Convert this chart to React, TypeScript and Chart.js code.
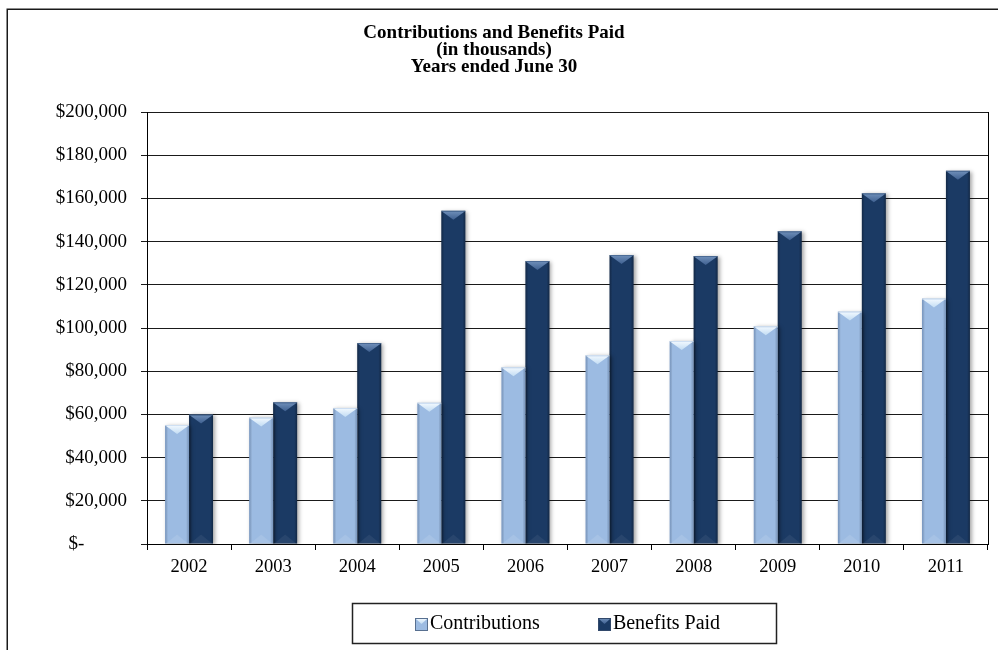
import React, { useEffect, useRef } from 'react';
import { Chart, registerables } from 'chart.js';

Chart.register(...registerables);

const years = ['2002', '2003', '2004', '2005', '2006', '2007', '2008', '2009', '2010', '2011'];
const contributions = [55100, 58600, 63000, 65400, 81800, 87400, 94000, 100800, 107600, 113600];
const benefitsPaid = [60000, 65600, 93000, 154300, 131000, 133800, 133300, 144800, 162400, 172800];
const seriesNames = ['Contributions', 'Benefits Paid'];
const titleLines = ['Contributions and Benefits Paid', '(in thousands)', 'Years ended June 30'];
const yMin = 0;
const yMax = 200000;
const yStep = 20000;

const FONT = "'Liberation Serif', 'Times New Roman', serif";

const palette = [
  { body: '#9cbbe2', edge: 'rgba(40,70,120,0.30)', capTop: '#f4faff', capBot: '#c2dcf3', foot: 'rgba(255,255,255,0.10)' },
  { body: '#1b3a64', edge: 'rgba(0,0,0,0.30)', capTop: '#7191bb', capBot: '#3f6090', foot: 'rgba(255,255,255,0.06)' },
];

const decorPlugin = {
  id: 'decor',
  beforeDraw(chart: any) {
    const { ctx, width, height } = chart;
    ctx.save();
    ctx.fillStyle = '#ffffff';
    ctx.fillRect(0, 0, width, height);
    ctx.strokeStyle = '#1a1a1a';
    ctx.lineWidth = 1.5;
    ctx.strokeRect(7.25, 9.25, width + 50, height + 50);
    ctx.restore();
  },
  beforeDatasetsDraw(chart: any) {
    const ctx = chart.ctx;
    ctx.save();
    ctx.shadowColor = 'rgba(0,0,0,0.35)';
    ctx.shadowBlur = 4;
    ctx.shadowOffsetX = 2;
    ctx.shadowOffsetY = 1;
  },
  afterDatasetsDraw(chart: any) {
    const ctx = chart.ctx;
    ctx.restore();
    chart.data.datasets.forEach((ds: any, di: number) => {
      const meta = chart.getDatasetMeta(di);
      const pal = palette[di];
      meta.data.forEach((bar: any) => {
        const { x, y, width, base } = bar.getProps(['x', 'y', 'width', 'base'], true);
        const l = x - width / 2;
        const r = x + width / 2;
        const h = base - y;
        ctx.save();
        const g = ctx.createLinearGradient(l, 0, r, 0);
        g.addColorStop(0, pal.edge);
        g.addColorStop(0.12, 'rgba(0,0,0,0)');
        g.addColorStop(0.88, 'rgba(0,0,0,0)');
        g.addColorStop(1, pal.edge);
        ctx.fillStyle = g;
        ctx.fillRect(l, y, width, h);
        const capH = Math.min(9, h / 2);
        const cg = ctx.createLinearGradient(0, y, 0, y + capH);
        cg.addColorStop(0, pal.capTop);
        cg.addColorStop(1, pal.capBot);
        ctx.fillStyle = cg;
        ctx.beginPath();
        ctx.moveTo(l + 1, y + 1);
        ctx.lineTo(r - 1, y + 1);
        ctx.lineTo(x, y + capH);
        ctx.closePath();
        ctx.fill();
        ctx.fillStyle = pal.capTop;
        ctx.globalAlpha = 0.6;
        ctx.fillRect(l, y, width, 1);
        ctx.globalAlpha = 1;
        const fH = Math.min(9, h / 2);
        ctx.fillStyle = pal.foot;
        ctx.beginPath();
        ctx.moveTo(l + 1, base);
        ctx.lineTo(r - 1, base);
        ctx.lineTo(x, base - fH);
        ctx.closePath();
        ctx.fill();
        ctx.restore();
      });
    });
  },
  afterDraw(chart: any) {
    const { ctx, chartArea } = chart;
    ctx.save();
    ctx.strokeStyle = '#000';
    ctx.lineWidth = 1;
    ctx.beginPath();
    ctx.moveTo(Math.round(chartArea.right) + 0.5, chartArea.top);
    ctx.lineTo(Math.round(chartArea.right) + 0.5, chartArea.bottom);
    ctx.stroke();

    const cx = (chartArea.left + chartArea.right) / 2 - 3.5;
    const boxW = 424;
    const boxH = 40;
    const boxL = Math.round(cx - boxW / 2);
    const boxT = Math.round(chartArea.bottom + 59);
    ctx.strokeStyle = '#222';
    ctx.lineWidth = 1.5;
    ctx.strokeRect(boxL + 0.5, boxT + 0.5, boxW, boxH);

    ctx.font = `20px ${FONT}`;
    ctx.textBaseline = 'middle';
    ctx.textAlign = 'left';
    const icon = 13;
    const gapIT = 2;
    const gapItems = 58;
    const widths = chart.data.datasets.map((d: any) => ctx.measureText(d.label).width);
    const total = widths.reduce((a: number, w: number) => a + w + icon + gapIT, 0) + gapItems;
    let px = cx + 3.5 - total / 2;
    const cy = boxT + boxH / 2 + 1;
    chart.data.datasets.forEach((d: any, i: number) => {
      const pal = palette[i];
      const ix = Math.round(px);
      const iy = Math.round(cy - icon / 2);
      ctx.fillStyle = pal.body;
      ctx.fillRect(ix, iy, icon, icon);
      const cg = ctx.createLinearGradient(0, iy, 0, iy + 6);
      cg.addColorStop(0, pal.capTop);
      cg.addColorStop(1, pal.capBot);
      ctx.fillStyle = cg;
      ctx.beginPath();
      ctx.moveTo(ix + 1, iy + 1);
      ctx.lineTo(ix + icon - 1, iy + 1);
      ctx.lineTo(ix + icon / 2, iy + 6);
      ctx.closePath();
      ctx.fill();
      ctx.strokeStyle = 'rgba(60,80,110,0.7)';
      ctx.lineWidth = 1;
      ctx.strokeRect(ix + 0.5, iy + 0.5, icon - 1, icon - 1);
      ctx.fillStyle = '#000';
      ctx.fillText(d.label, px + icon + gapIT, cy);
      px += icon + gapIT + widths[i] + gapItems;
    });
    ctx.restore();
  },
};

export default function App() {
  const canvasRef = useRef<HTMLCanvasElement | null>(null);

  useEffect(() => {
    if (!canvasRef.current) return;
    const chart = new Chart(canvasRef.current, {
      type: 'bar',
      data: {
        labels: years,
        datasets: [
          {
            label: seriesNames[0],
            data: contributions,
            backgroundColor: palette[0].body,
            borderWidth: 0,
            categoryPercentage: 0.57,
            barPercentage: 1.0,
          },
          {
            label: seriesNames[1],
            data: benefitsPaid,
            backgroundColor: palette[1].body,
            borderWidth: 0,
            categoryPercentage: 0.57,
            barPercentage: 1.0,
          },
        ],
      },
      options: {
        responsive: false,
        animation: false,
        devicePixelRatio: 1,
        layout: { padding: { left: 0, right: 10, top: 0, bottom: 0 } },
        plugins: {
          legend: { display: false },
          tooltip: { enabled: false },
          title: {
            display: true,
            text: titleLines,
            color: '#000',
            font: { family: FONT, size: 19, weight: 'bold', lineHeight: 17 / 19 },
            padding: { top: 24.5, bottom: 36.5 },
          },
        },
        scales: {
          x: {
            grid: {
              display: true,
              offset: true,
              drawOnChartArea: false,
              drawTicks: true,
              tickLength: 6,
              color: '#000',
            },
            border: { display: true, color: '#000', width: 1 },
            ticks: {
              color: '#000',
              font: { family: FONT, size: 18.5 },
              padding: 6,
              maxRotation: 0,
            },
            afterFit: (scale: any) => {
              scale.height = 106;
            },
          },
          y: {
            min: yMin,
            max: yMax,
            grid: {
              display: true,
              drawTicks: true,
              tickLength: 6,
              color: '#1a1a1a',
              lineWidth: 1,
            },
            border: { display: true, color: '#000', width: 1 },
            ticks: {
              stepSize: yStep,
              color: '#000',
              font: { family: FONT, size: 19 },
              padding: 14,
              callback: (v: any) =>
                Number(v) === 0 ? '$-\u2002\u2002\u2002\u2002 ' : '$' + Number(v).toLocaleString('en-US'),
            },
            afterFit: (scale: any) => {
              scale.width = 147;
            },
          },
        },
      },
      plugins: [decorPlugin],
    });
    return () => chart.destroy();
  }, []);

  return (
    <div style={{ position: 'fixed', left: 0, top: 0, width: 998, height: 650, background: '#fff' }}>
      <canvas ref={canvasRef} width={998} height={650} style={{ width: 998, height: 650, display: 'block' }} />
    </div>
  );
}
